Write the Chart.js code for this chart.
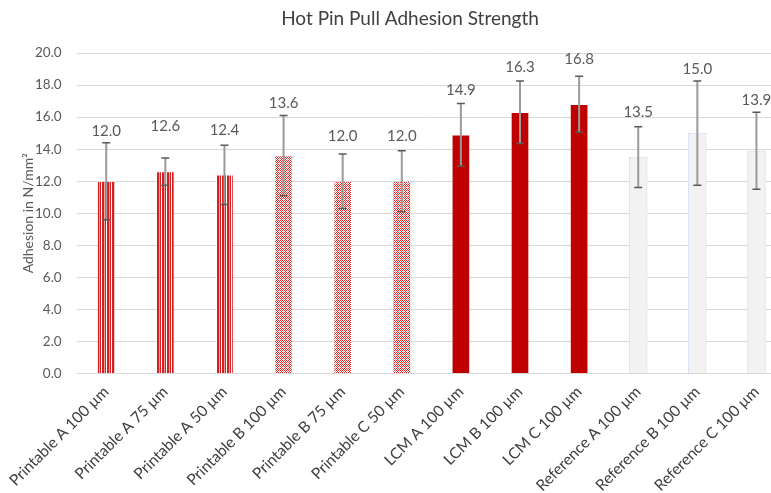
<!DOCTYPE html>
<html>
<head>
<meta charset="utf-8">
<script src="https://cdn.jsdelivr.net/npm/chart.js@4"></script>
<style>
  html, body { margin: 0; padding: 0; overflow: hidden; background: #fff; }
  #wrap { width: 820px; height: 493px; }
</style>
</head>
<body>
<div id="wrap"><canvas id="chart"></canvas></div>
<script>
// categories and values
const categories = [
  'Printable A 100 µm', 'Printable A 75 µm', 'Printable A 50 µm',
  'Printable B 100 µm', 'Printable B 75 µm', 'Printable C 50 µm',
  'LCM A 100 µm', 'LCM B 100 µm', 'LCM C 100 µm',
  'Reference A 100 µm', 'Reference B 100 µm', 'Reference C 100 µm'
];
const adhesion = [12.0, 12.6, 12.4, 13.6, 12.0, 12.0, 14.9, 16.3, 16.8, 13.5, 15.0, 13.9];
const stdDev = [2.4, 0.85, 1.85, 2.5, 1.7, 1.9, 1.95, 1.95, 1.75, 1.9, 3.25, 2.4];
const yTicks = [0, 2, 4, 6, 8, 10, 12, 14, 16, 18, 20];
const chartTitle = 'Hot Pin Pull Adhesion Strength';
const yTitle = 'Adhesion in N/mm²';

const FONT = 'Lato, "Open Sans", sans-serif';

// Function to build a fill pattern from a tiny tile
function makePattern(w, h, draw) {
  const c = document.createElement('canvas');
  c.width = w;
  c.height = h;
  const g = c.getContext('2d');
  g.fillStyle = '#ffffff';
  g.fillRect(0, 0, w, h);
  draw(g);
  return c.getContext('2d').createPattern(c, 'repeat');
}

// vertical stripes for Printable A
const stripes = makePattern(5, 4, g => {
  g.fillStyle = '#d42020';
  g.fillRect(0, 0, 1, 4);
  g.fillRect(2, 0, 2, 4);
  g.fillStyle = '#f0a0a0';
  g.fillRect(4, 0, 1, 4);
});

// small diamond hatch for Printable B / C
const hatch = makePattern(4, 4, g => {
  g.fillStyle = '#e02828';
  g.fillRect(0, 0, 1, 1);
  g.fillRect(2, 0, 1, 1);
  g.fillRect(1, 1, 1, 1);
  g.fillRect(3, 1, 1, 1);
  g.fillRect(0, 2, 1, 1);
  g.fillRect(2, 2, 1, 1);
  g.fillRect(1, 3, 1, 1);
  g.fillStyle = '#f4b0b0';
  g.fillRect(3, 3, 1, 1);
});

const fills = categories.map((c, i) => {
  if (i < 3) return stripes;
  if (i < 6) return hatch;
  if (i < 9) return '#c00000';
  return '#f2f2f2';
});
const borders = categories.map((c, i) => i < 9 ? 'rgba(0,0,0,0)' : '#dae3f3');

// error bars, value labels, chart title and axis title
const errorBars = {
  id: 'errorBars',
  afterDatasetsDraw(chart) {
    const ctx = chart.ctx;
    const meta = chart.getDatasetMeta(0);
    const y = chart.scales.y;
    ctx.save();
    meta.data.forEach((bar, i) => {
      const x = bar.x;
      const top = y.getPixelForValue(adhesion[i] + stdDev[i]);
      const bot = y.getPixelForValue(adhesion[i] - stdDev[i]);
      ctx.strokeStyle = '#9a9a9a';
      ctx.lineWidth = 2;
      ctx.beginPath();
      ctx.moveTo(x, top);
      ctx.lineTo(x, bot);
      ctx.stroke();
      ctx.strokeStyle = '#595959';
      ctx.lineWidth = 1.5;
      ctx.beginPath();
      ctx.moveTo(x - 4, top);
      ctx.lineTo(x + 4, top);
      ctx.moveTo(x - 4, bot);
      ctx.lineTo(x + 4, bot);
      ctx.stroke();

      // value label above bar / error bar
      const ly = Math.min(bar.y - 45, top - 12);
      ctx.fillStyle = '#595959';
      ctx.font = '15px ' + FONT;
      ctx.textAlign = 'center';
      ctx.textBaseline = 'middle';
      ctx.fillText(adhesion[i].toFixed(1), x, ly);
    });

    ctx.fillStyle = '#404040';
    ctx.font = '19px ' + FONT;
    ctx.textAlign = 'center';
    ctx.textBaseline = 'middle';
    ctx.fillText(chartTitle, chart.width / 2, 19);

    ctx.translate(28, (chart.chartArea.top + chart.chartArea.bottom) / 2);
    ctx.rotate(-Math.PI / 2);
    ctx.fillStyle = '#595959';
    ctx.font = '14px ' + FONT;
    ctx.fillText(yTitle, 0, 0);
    ctx.restore();
  }
};

const ctx = document.getElementById('chart').getContext('2d');
new Chart(ctx, {
  type: 'bar',
  data: {
    labels: categories,
    datasets: [{
      label: 'Adhesion',
      data: adhesion,
      backgroundColor: fills,
      borderColor: borders,
      borderWidth: 1,
      barThickness: 18
    }]
  },
  options: {
    responsive: true,
    maintainAspectRatio: false,
    animation: false,
    layout: { padding: { left: 20, right: 34, top: 53, bottom: -3 } },
    plugins: {
      legend: { display: false },
      tooltip: { enabled: false },
      title: { display: false }
    },
    scales: {
      x: {
        grid: { display: false },
        border: { color: '#d9d9d9' },
        ticks: {
          color: '#404040',
          maxRotation: 45,
          minRotation: 45,
          padding: 1,
          font: { family: FONT, size: 15.5 }
        }
      },
      y: {
        min: 0,
        max: 20,
        afterBuildTicks: axis => { axis.ticks = yTicks.map(v => ({ value: v })); },
        grid: { color: '#d9d9d9', drawTicks: false },
        border: { display: false },
        ticks: {
          color: '#595959',
          padding: 15,
          font: { family: FONT, size: 13.5 },
          callback: v => Number(v).toFixed(1)
        }
      }
    }
  },
  plugins: [errorBars]
});
</script>
</body>
</html>
